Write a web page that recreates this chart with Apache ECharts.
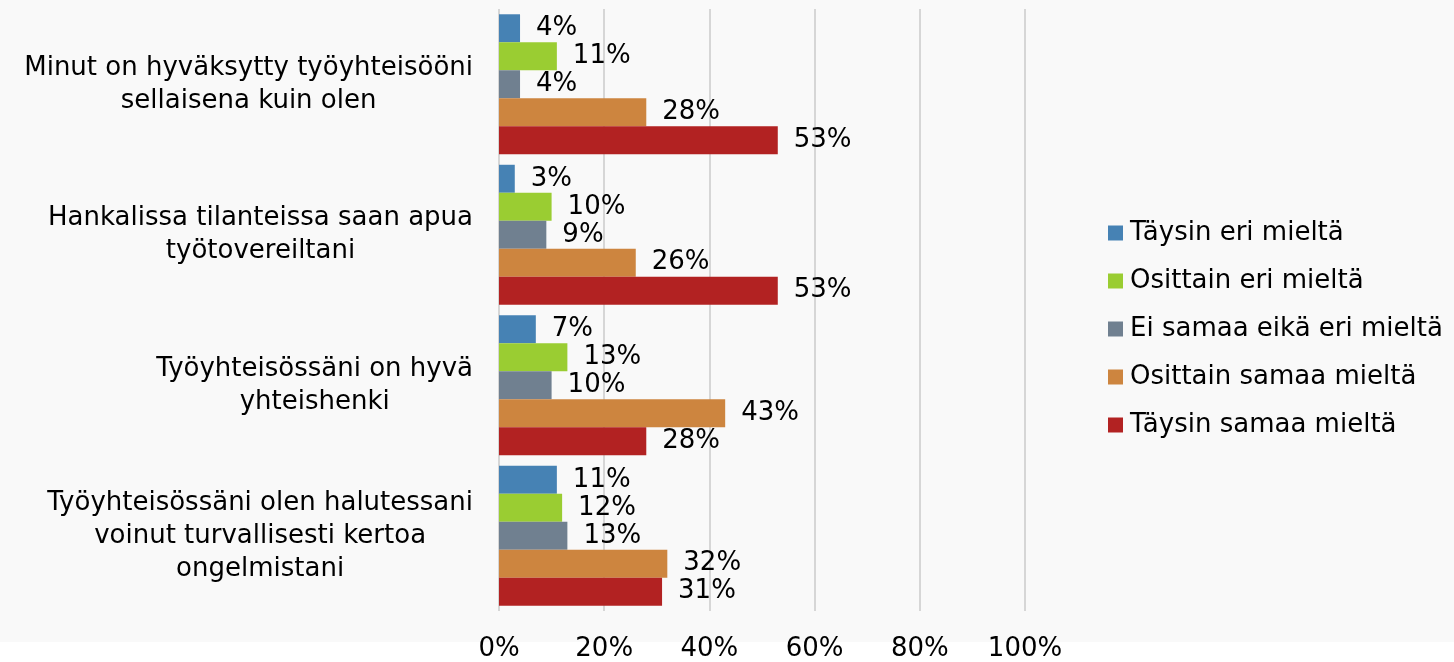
<!DOCTYPE html>
<html>
<head>
<meta charset="utf-8">
<script src="https://cdn.jsdelivr.net/npm/echarts@6/dist/echarts.min.js"></script>
<style>
  html, body { margin: 0; padding: 0; background: #fff; }
  #chart {
    width: 1454px;
    height: 662px;
    background: linear-gradient(#f9f9f9 0, #f9f9f9 642px, #ffffff 642px);
  }
</style>
</head>
<body>
<div id="chart"></div>
<script>
// kysymykset (y-akseli)
const categories = [
  'Minut on hyväksytty työyhteisööni\nsellaisena kuin olen',
  'Hankalissa tilanteissa saan apua\ntyötovereiltani',
  'Työyhteisössäni on hyvä\nyhteishenki',
  'Työyhteisössäni olen halutessani\nvoinut turvallisesti kertoa\nongelmistani'
];

const seriesNames = [
  'Täysin eri mieltä',
  'Osittain eri mieltä',
  'Ei samaa eikä eri mieltä',
  'Osittain samaa mieltä',
  'Täysin samaa mieltä'
];

// prosenttiosuudet, yksi taulukko per vastausvaihtoehto
const taysinEri = [4, 3, 7, 11];
const osittainEri = [11, 10, 13, 12];
const eiSamaaEikaEri = [4, 9, 10, 13];
const osittainSamaa = [28, 26, 43, 32];
const taysinSamaa = [53, 53, 28, 31];

const xTicks = [0, 20, 40, 60, 80, 100];

const colors = ['#4682b4', '#9acd32', '#708090', '#cd853f', '#b22222'];
const values = [taysinEri, osittainEri, eiSamaaEikaEri, osittainSamaa, taysinSamaa];

const FONT = 'DejaVu Sans, Verdana, sans-serif';
const FS = 26;

const chart = echarts.init(document.getElementById('chart'));

const option = {
  backgroundColor: 'transparent',
  animation: false,
  color: colors,
  textStyle: { fontFamily: FONT },
  grid: {
    left: 499,
    right: 429,
    top: 9,
    bottom: 50,
    containLabel: false
  },
  legend: {
    orient: 'vertical',
    left: 1108,
    top: 220,
    padding: 0,
    itemWidth: 15,
    itemHeight: 15,
    itemGap: 22,
    icon: 'rect',
    data: seriesNames,
    textStyle: {
      fontFamily: FONT,
      fontSize: FS,
      lineHeight: 26,
      color: '#000',
      padding: [0, 0, 0, 2]
    }
  },
  xAxis: {
    type: 'value',
    min: xTicks[0],
    max: xTicks[xTicks.length - 1],
    interval: 20,
    axisLine: { show: false },
    axisTick: { show: false },
    axisLabel: {
      margin: 25,
      fontFamily: FONT,
      fontSize: FS,
      color: '#000',
      formatter: '{value}%'
    },
    splitLine: {
      show: true,
      lineStyle: { color: '#d6d6d6', width: 2 }
    }
  },
  yAxis: {
    type: 'category',
    inverse: true,
    data: categories,
    axisLine: { show: false },
    axisTick: { show: false },
    axisLabel: {
      margin: 26,
      fontFamily: FONT,
      fontSize: FS,
      color: '#000',
      lineHeight: 33,
      formatter: function (value) {
        return value.split('\n').map(function (l) { return '{c|' + l + '}'; }).join('\n');
      },
      rich: {
        c: {
          align: 'center',
          fontFamily: FONT,
          fontSize: FS,
          lineHeight: 33,
          color: '#000'
        }
      }
    }
  },
  series: seriesNames.map(function (name, i) {
    return {
      name: name,
      type: 'bar',
      data: values[i],
      barGap: '0%',
      barCategoryGap: '7%',
      label: {
        show: true,
        position: 'right',
        distance: 16,
        fontFamily: FONT,
        fontSize: FS,
        color: '#000',
        formatter: '{c}%'
      }
    };
  })
};

chart.setOption(option);
</script>
</body>
</html>
